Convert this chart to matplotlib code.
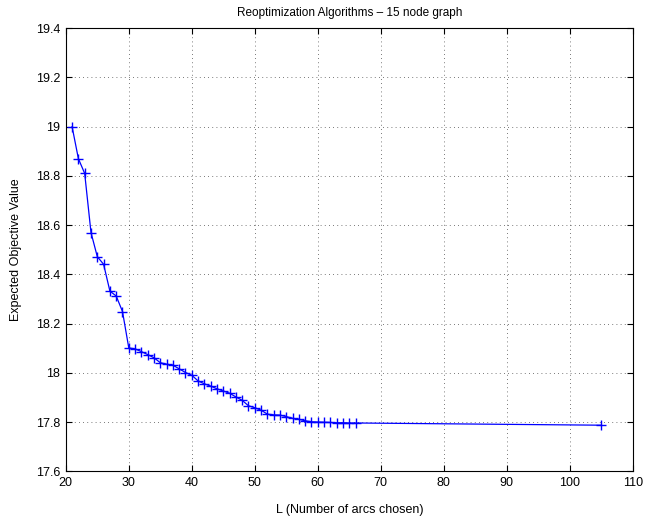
import matplotlib
matplotlib.use('Agg')
import matplotlib.pyplot as plt
from matplotlib.ticker import MultipleLocator

plt.rcParams['font.family'] = ['Liberation Sans', 'DejaVu Sans']

arcs = list(range(21, 67)) + [105]
objective = [19.0, 18.87, 18.81, 18.57, 18.472, 18.441, 18.332, 18.312, 18.249, 18.101,
             18.097, 18.086, 18.074, 18.061, 18.041, 18.035, 18.031, 18.016, 18.001, 17.99,
             17.967, 17.955, 17.946, 17.935, 17.926, 17.917, 17.902, 17.888, 17.866, 17.858,
             17.848, 17.832, 17.829, 17.828, 17.822, 17.815, 17.811, 17.805, 17.801, 17.8,
             17.799, 17.798, 17.797, 17.797, 17.796, 17.796,
             17.787]
yticks = [17.6, 17.8, 18.0, 18.2, 18.4, 18.6, 18.8, 19.0, 19.2, 19.4]
ylabels = ['17.6', '17.8', '18', '18.2', '18.4', '18.6', '18.8', '19', '19.2', '19.4']

fig = plt.figure(figsize=(6.45, 5.23), dpi=100)
ax = fig.add_axes([0.102, 0.099, 0.879, 0.847])

ax.plot(arcs, objective, color='blue', marker='+', markersize=7, linewidth=0.9)

ax.set_xlim(20, 110)
ax.set_ylim(17.6, 19.4)
ax.xaxis.set_major_locator(MultipleLocator(10))
ax.set_yticks(yticks)
ax.set_yticklabels(ylabels)
ax.grid(True, linestyle=(0, (1, 4)), color='black', linewidth=0.6, alpha=0.7)
ax.tick_params(direction='in', length=4, labelsize=9, top=True, right=True,
               labeltop=False, labelright=False)
ax.tick_params(axis='x', pad=4)
ax.tick_params(axis='y', pad=4)
for s in ax.spines.values():
    s.set_linewidth(0.8)

ax.set_title('Reoptimization Algorithms \u2013 15 node graph', fontsize=8.5, pad=9)
ax.set_xlabel('L (Number of arcs chosen)', fontsize=9, labelpad=11)
ax.set_ylabel('Expected Objective Value', fontsize=9, labelpad=10)

fig.savefig('out.png', dpi=100)
